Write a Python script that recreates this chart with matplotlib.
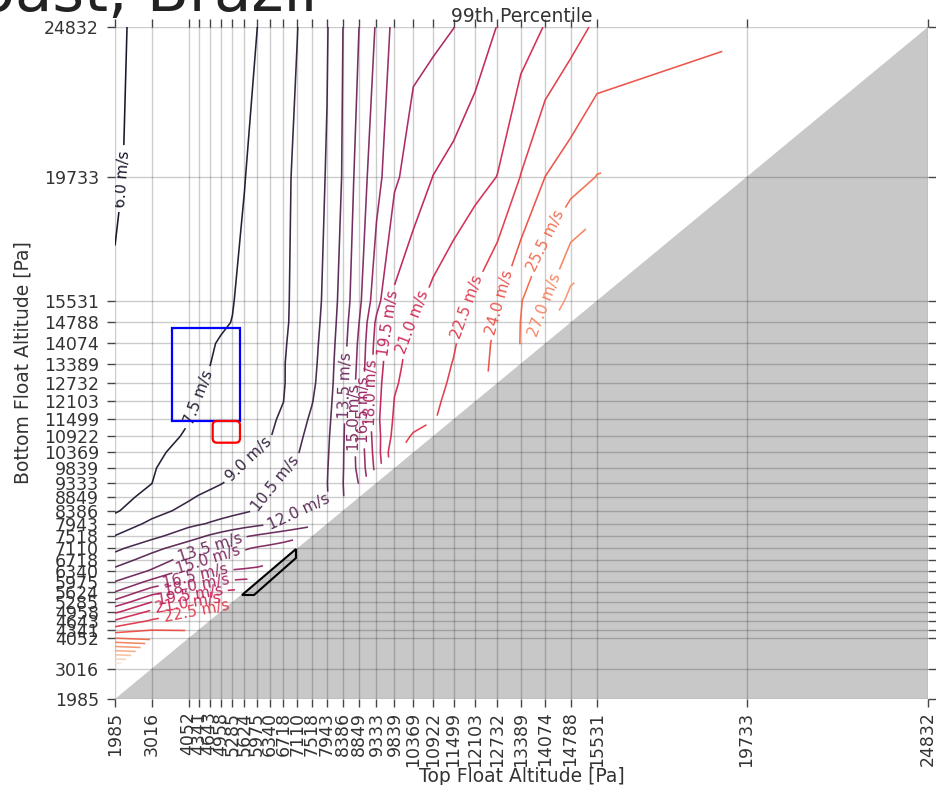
import numpy as np
import matplotlib
matplotlib.use("Agg")
import matplotlib.pyplot as plt
import seaborn as sns
from matplotlib.colors import Normalize
from matplotlib.patches import Polygon, Rectangle, FancyBboxPatch

# float pressure levels (Pa), used on both axes
pressures = [1985, 3016, 4052, 4341, 4643, 4958, 5285, 5624, 5975, 6340, 6718,
             7110, 7518, 7943, 8386, 8849, 9333, 9839, 10369, 10922, 11499,
             12103, 12732, 13389, 14074, 14788, 15531, 19733, 24832]

# 99th percentile wind speed (m/s) for each bottom float pressure,
# one value per top float pressure lower than it (left to right)
wind_24832 = [5.8, 6.41, 6.79, 6.89, 7.0, 7.12, 7.24, 7.36, 7.49, 7.95, 8.45, 8.98,
              9.67, 10.40, 11.98, 13.52, 15.15, 16.95, 17.55, 17.62, 17.98, 18.75,
              19.54, 20.29, 21.07, 21.9, 22.76, 23.7]
wind_19733 = [5.9, 6.36, 6.8, 6.92, 7.05, 7.18, 7.32, 7.47, 7.83, 8.27, 8.71, 9.24,
              9.88, 10.59, 12.11, 14.18, 15.95, 17.75, 18.68, 19.52, 19.98, 20.48,
              21.03, 22.55, 24.01, 24.74, 25.55]
wind_15531 = [6.08, 6.51, 6.94, 7.06, 7.19, 7.32, 7.46, 7.73, 8.07, 8.43, 8.79, 9.29,
              9.95, 10.82, 12.6, 14.66, 17.46, 19.75, 20.61, 21.34, 21.98, 22.74,
              23.83, 25.41, 26.89, 29.0]
wind_14788 = [6.3, 6.68, 7.06, 7.17, 7.28, 7.39, 7.52, 7.82, 8.14, 8.47, 8.81, 9.31,
              9.99, 10.94, 12.75, 15.02, 18.28, 20.1, 21.04, 21.58, 22.15, 22.97,
              24.14, 25.53, 27.9]
wind_14074 = [6.45, 6.83, 7.2, 7.31, 7.42, 7.57, 7.81, 8.07, 8.33, 8.6, 8.88, 9.38,
              10.06, 11.08, 12.9, 15.27, 18.57, 20.55, 21.35, 21.85, 22.38, 23.27,
              24.32, 25.55]
wind_13389 = [6.6, 6.94, 7.29, 7.38, 7.48, 7.69, 7.92, 8.16, 8.41, 8.67, 8.93, 9.48,
              10.13, 11.2, 13.02, 15.41, 18.75, 20.7, 21.43, 21.97, 22.55, 23.43, 24.35]
wind_12732 = [6.72, 7.04, 7.35, 7.44, 7.58, 7.78, 7.99, 8.22, 8.45, 8.68, 8.93, 9.5,
              10.23, 11.32, 13.06, 15.58, 18.94, 20.86, 21.51, 22.09, 22.7, 23.5]
wind_12103 = [6.84, 7.13, 7.42, 7.51, 7.69, 7.89, 8.09, 8.3, 8.52, 8.75, 8.99, 9.69,
              10.43, 11.48, 13.14, 15.67, 19.03, 21.05, 21.62, 22.24, 22.9]
wind_11499 = [6.95, 7.21, 7.48, 7.62, 7.8, 7.99, 8.19, 8.4, 8.61, 8.83, 9.18, 9.92,
              10.72, 11.62, 13.22, 15.76, 19.13, 21.21, 21.8, 22.4]
wind_10922 = [7.05, 7.29, 7.56, 7.73, 7.92, 8.1, 8.3, 8.5, 8.72, 8.94, 9.49, 10.19,
              10.95, 11.75, 13.3, 15.63, 18.91, 21.49, 22.7]
wind_10369 = [7.14, 7.36, 7.72, 7.91, 8.11, 8.32, 8.53, 8.75, 8.98, 9.43, 9.92, 10.42,
              11.1, 11.83, 13.37, 15.52, 18.75, 22.2]
wind_9839 = [7.23, 7.43, 7.96, 8.17, 8.38, 8.6, 8.83, 9.11, 9.5, 9.91, 10.33, 10.81,
             11.35, 11.91, 13.4, 15.44, 18.5]
wind_9333 = [7.3, 7.49, 8.25, 8.47, 8.69, 8.93, 9.24, 9.59, 9.94, 10.31, 10.7, 11.1,
             11.52, 11.96, 13.46, 15.1]
wind_8849 = [7.32, 7.65, 8.83, 9.09, 9.32, 9.56, 9.8, 10.06, 10.32, 10.61, 10.91, 11.23,
             11.56, 11.91, 13.4]
wind_8386 = [7.34, 8.52, 9.38, 9.55, 9.74, 9.93, 10.12, 10.33, 10.58, 10.99, 11.41,
             11.85, 12.35, 12.8]
wind_7943 = [8.16, 9.29, 10.13, 10.36, 10.6, 10.84, 11.1, 11.36, 11.64, 11.91, 12.26,
             12.65, 13.05]
wind_7518 = [9.05, 10.11, 11.39, 11.78, 12.17, 12.56, 12.96, 13.38, 13.72, 14.05, 14.38,
             14.73]
wind_7110 = [10.15, 11.52, 12.84, 13.16, 13.52, 13.94, 14.39, 14.86, 15.15, 15.37, 15.6]
wind_6718 = [11.23, 12.67, 14.11, 14.56, 15.04, 15.23, 15.45, 15.67, 15.91, 16.15]
wind_6340 = [12.39, 13.65, 15.46, 15.83, 16.23, 16.53, 16.62, 16.71, 16.8]
wind_5975 = [13.52, 15.37, 16.92, 17.41, 17.94, 18.11, 18.24, 18.37]
wind_5624 = [15.03, 17.39, 18.89, 19.2, 19.54, 19.65, 19.8]
wind_5285 = [16.93, 19.48, 20.78, 21.13, 21.38, 21.67]
wind_4958 = [19.15, 21.3, 22.36, 22.67, 23.0]
wind_4643 = [21.17, 22.68, 23.17, 23.3]
wind_4341 = [23.18, 23.95, 23.9]
wind_4052 = [25.52, 25.0]
wind_3016 = [36.5]

rows = {24832: wind_24832, 19733: wind_19733, 15531: wind_15531, 14788: wind_14788,
        14074: wind_14074, 13389: wind_13389, 12732: wind_12732, 12103: wind_12103,
        11499: wind_11499, 10922: wind_10922, 10369: wind_10369, 9839: wind_9839,
        9333: wind_9333, 8849: wind_8849, 8386: wind_8386, 7943: wind_7943,
        7518: wind_7518, 7110: wind_7110, 6718: wind_6718, 6340: wind_6340,
        5975: wind_5975, 5624: wind_5624, 5285: wind_5285, 4958: wind_4958,
        4643: wind_4643, 4341: wind_4341, 4052: wind_4052, 3016: wind_3016}

n = len(pressures)
Z = np.full((n, n), np.nan)
for j, p in enumerate(pressures):
    vals = rows.get(p)
    if vals:
        Z[j, :len(vals)] = vals
Z = np.ma.masked_invalid(Z)

levels = np.arange(6.0, 37.0, 1.5)

# where each contour label sits (top float, bottom float)
label_spots = [(6.0, 2041, 19699), (7.5, 4373, 12219), (9.0, 5835, 10009),
               (10.5, 6593, 9227), (12.0, 7155, 8343), (13.5, 4626, 7221),
               (15.0, 4598, 6745), (16.5, 4261, 6133), (18.0, 4289, 5861),
               (19.5, 4093, 5453), (21.0, 4036, 5215), (22.5, 4289, 4875),
               (13.5, 8476, 12661), (15.0, 8729, 11539), (16.5, 8926, 11811),
               (18.0, 9179, 12389), (19.5, 9544, 14803), (21.0, 10190, 14871),
               (22.5, 11595, 15415), (24.0, 12719, 15483), (25.5, 14068, 17591),
               (27.0, 13956, 15449)]

text_col = '#333333'
fig = plt.figure(figsize=(9.37, 7.85), dpi=100)
ax = fig.add_axes([0.12273, 0.10955, 0.86766, 0.85605])

pmin, pmax = pressures[0], pressures[-1]
ax.set_xlim(pmin, pmax)
ax.set_ylim(pmin, pmax)

ax.add_patch(Polygon([(pmin, pmin), (pmax, pmax), (pmax, pmin)], closed=True,
                     facecolor='#c8c8c8', edgecolor='none', zorder=1))

cmap = sns.color_palette("rocket", as_cmap=True)
norm = Normalize(6.0, 35.0)

# one contour set per level, so each label can be pinned to its own line
for lev in levels:
    cs = ax.contour(pressures, pressures, Z, levels=[lev], colors=[cmap(norm(lev))],
                    linewidths=1.15, alpha=0.92, zorder=3)
    spots = [(lx, ly) for lv, lx, ly in label_spots if abs(lv - lev) < 1e-6]
    if spots:
        ax.clabel(cs, manual=spots, inline=True, fmt='%.1f m/s', fontsize=11)

ax.set_xticks(pressures)
ax.set_yticks(pressures)
ax.set_xticklabels([str(p) for p in pressures], rotation=90)
ax.set_yticklabels([str(p) for p in pressures])
ax.grid(True, color='k', alpha=0.2, linewidth=1)
ax.tick_params(direction='out', length=6, width=1, color='#444444', top=True,
               right=True, labelsize=12.5, labelcolor=text_col)
ax.tick_params(axis='x', pad=3)
ax.tick_params(axis='y', pad=5.5)
for s in ax.spines.values():
    s.set_visible(False)

ax.set_xlabel('Top Float Altitude [Pa]', fontsize=13.5, color=text_col, labelpad=0)
ax.set_ylabel('Bottom Float Altitude [Pa]', fontsize=13.5, color=text_col, labelpad=8)
ax.text(0.5, 1 + 5 / 672, '99th Percentile', transform=ax.transAxes, ha='center',
        va='baseline', fontsize=13.5, color=text_col)
fig.text(318 / 937, 1 - 11 / 785, 'Coast, Brazil', ha='right', va='baseline',
         fontsize=44, color='#222222')

# highlighted regions
ax.add_patch(Rectangle((3595, 11437), 5497 - 3595, 14589 - 11437, fill=False,
                       edgecolor='blue', linewidth=1.6, zorder=5))
ax.add_patch(FancyBboxPatch((4730, 10699), 5497 - 4730, 11437 - 10699,
                            boxstyle='round,pad=0,rounding_size=120',
                            mutation_aspect=1.21, fill=False, edgecolor='red',
                            linewidth=1.6, zorder=5))
ax.add_patch(Polygon([(5554, 5521), (5891, 5521), (7071, 6779), (7071, 7085)],
                     closed=True, fill=False, edgecolor='black', linewidth=1.5,
                     zorder=5))

fig.savefig('out.png', dpi=100)
